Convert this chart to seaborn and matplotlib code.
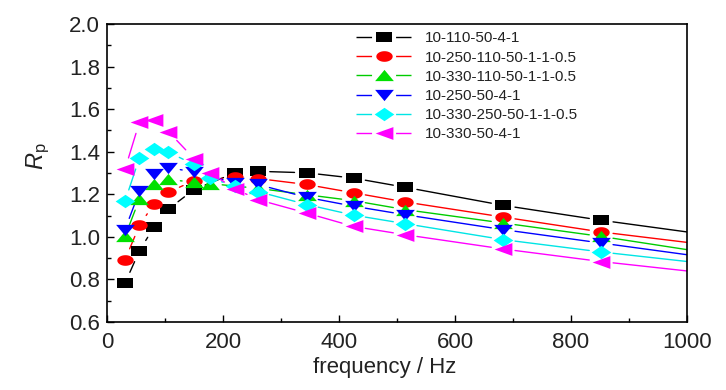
import numpy as np
import pandas as pd
import matplotlib
matplotlib.use("Agg")
import matplotlib.pyplot as plt
import seaborn as sns
from matplotlib.path import Path
from matplotlib.lines import Line2D
from matplotlib.legend_handler import HandlerTuple
from matplotlib import font_manager as fm

# ---------------- data ----------------
labels = ["10-110-50-4-1", "10-250-110-50-1-1-0.5", "10-330-110-50-1-1-0.5",
          "10-250-50-4-1", "10-330-250-50-1-1-0.5", "10-330-50-4-1"]

freq_black = [31, 56, 81, 106, 150, 220, 260, 344, 425, 514, 683, 852, 1100]
rp_black = [0.782, 0.935, 1.046, 1.131, 1.222, 1.300, 1.308, 1.301, 1.276, 1.233, 1.148, 1.078, 0.986]

freq_red = [31, 56, 81, 106, 150, 220, 260, 344, 425, 514, 683, 852, 1100]
rp_red = [0.892, 1.054, 1.155, 1.210, 1.264, 1.279, 1.274, 1.246, 1.207, 1.164, 1.093, 1.023, 0.941]

freq_green = [31, 56, 81, 106, 150, 178, 260, 344, 425, 514, 683, 852, 1100]
rp_green = [1.002, 1.178, 1.246, 1.270, 1.256, 1.250, 1.228, 1.198, 1.170, 1.128, 1.065, 1.002, 0.898]

freq_blue = [31, 56, 81, 106, 150, 220, 260, 344, 425, 514, 683, 852, 1100]
rp_blue = [1.034, 1.214, 1.293, 1.325, 1.305, 1.254, 1.246, 1.186, 1.144, 1.104, 1.034, 0.971, 0.879]

freq_cyan = [31, 56, 81, 106, 150, 178, 220, 260, 344, 425, 514, 683, 852, 1100]
rp_cyan = [1.167, 1.372, 1.414, 1.398, 1.340, 1.277, 1.238, 1.213, 1.152, 1.102, 1.062, 0.987, 0.929, 0.854]

freq_mag = [31, 56, 81, 106, 150, 178, 220, 260, 344, 425, 514, 683, 852, 1100]
rp_mag = [1.317, 1.540, 1.549, 1.494, 1.368, 1.300, 1.227, 1.175, 1.112, 1.049, 1.010, 0.943, 0.884, 0.810]

x_ticks = [0, 200, 400, 600, 800, 1000]
y_ticks = [0.6, 0.8, 1.0, 1.2, 1.4, 1.6, 1.8, 2.0]

series = [(freq_black, rp_black), (freq_red, rp_red), (freq_green, rp_green),
          (freq_blue, rp_blue), (freq_cyan, rp_cyan), (freq_mag, rp_mag)]
colors = ["#000000", "#ff0000", "#00e000", "#0000ff", "#00ffff", "#ff00ff"]
line_colors = ["#000000", "#ff0000", "#00cc00", "#0000ff", "#00e5e5", "#ff00ff"]

# marker shapes (style only)
t = np.linspace(0, 2 * np.pi, 40)
m_rect = Path([(-1, -0.6), (1, -0.6), (1, 0.6), (-1, 0.6), (-1, -0.6)], closed=True)
m_ell = Path(np.column_stack([np.cos(t), 0.65 * np.sin(t)]), closed=True)
m_up = Path([(-1, -0.6), (1, -0.6), (0, 0.6), (-1, -0.6)], closed=True)
m_down = Path([(-1, 0.6), (1, 0.6), (0, -0.6), (-1, 0.6)], closed=True)
m_dia = Path([(0, -0.68), (1, 0), (0, 0.68), (-1, 0), (0, -0.68)], closed=True)
m_left = Path([(-1, 0), (1, 0.72), (1, -0.72), (-1, 0)], closed=True)
markers = [m_rect, m_ell, m_up, m_down, m_dia, m_left]
msizes = [11.5, 11.8, 13.5, 13.5, 14.2, 12.8]

# ---------------- fonts ----------------
sns.set_theme(style="ticks")
names = {f.name for f in fm.fontManager.ttflist}
if "Liberation Sans Narrow" in names:
    fam = "Liberation Sans Narrow"
    tick_fs, leg_fs, lab_fs = 19, 13, 19
else:
    fam = "Liberation Sans"
    tick_fs, leg_fs, lab_fs = 16, 11, 17
plt.rcParams["font.family"] = [fam, "DejaVu Sans"]
plt.rcParams["mathtext.fontset"] = "custom"
plt.rcParams["mathtext.rm"] = fam
plt.rcParams["mathtext.it"] = fam + ":italic"

# ---------------- figure ----------------
fig = plt.figure(figsize=(7.26, 3.9), dpi=100)
ax = fig.add_axes([107 / 726, 1 - 322 / 390, 580 / 726, 298 / 390])
ax.set_facecolor("white")
ax.set_xlim(0, 1000)
ax.set_ylim(0.6, 2.0)

gap = 12.0  # px gap between line ends and marker centres
trans = ax.transData
inv = trans.inverted()
for (fx, fy), lc in zip(series, line_colors):
    pts = trans.transform(np.column_stack([fx, fy]))
    rows = []
    for i in range(len(pts) - 1):
        p0, p1 = pts[i], pts[i + 1]
        d = p1 - p0
        L = np.hypot(*d)
        if L <= 2 * gap + 1:
            continue
        u = d / L
        seg = inv.transform(np.array([p0 + u * gap, p1 - u * gap]))
        rows.append({"x": seg[0, 0], "y": seg[0, 1], "seg": i})
        rows.append({"x": seg[1, 0], "y": seg[1, 1], "seg": i})
    sdf = pd.DataFrame(rows)
    sns.lineplot(data=sdf, x="x", y="y", units="seg", estimator=None, sort=False,
                 color=lc, linewidth=1.0, ax=ax, legend=False)

for (fx, fy), c, m, ms in zip(series, colors, markers, msizes):
    df = pd.DataFrame({"f": fx, "rp": fy})
    sns.lineplot(data=df, x="f", y="rp", estimator=None, sort=False, ax=ax,
                 color=c, marker=m, markersize=ms, markeredgewidth=0,
                 markeredgecolor=c, linestyle="none", legend=False)

ax.set_xlim(0, 1000)
ax.set_ylim(0.6, 2.0)

ax.set_xticks(x_ticks)
ax.set_xticks(np.arange(100, 1000, 200), minor=True)
ax.set_yticks(y_ticks)
ax.set_yticks(np.arange(0.7, 2.0, 0.2), minor=True)
ax.set_yticklabels([f"{v:.1f}" for v in y_ticks])
ax.set_xticklabels([str(v) for v in x_ticks])
ax.tick_params(which="both", direction="in", top=False, right=False,
               labelsize=tick_fs, labelcolor="#222222", color="black", width=1)
ax.tick_params(axis="x", which="major", length=5, pad=7)
ax.tick_params(axis="y", which="major", length=5, pad=5)
ax.tick_params(which="minor", length=3)
for s in ax.spines.values():
    s.set_visible(True)
    s.set_color("black")
    s.set_linewidth(1.2)

ax.set_xlabel("frequency / Hz", fontsize=tick_fs, color="#222222")
ax.xaxis.set_label_coords(0.478, -0.117)
ax.set_ylabel(r"$R_{\mathrm{p}}$", fontsize=lab_fs, color="#222222")
ax.yaxis.set_label_coords(-0.094, 0.555)

# legend with gapped line handles
handles = []
for lc, c, m, ms in zip(line_colors, colors, markers, msizes):
    ln = Line2D([], [], color=lc, linewidth=1.0, linestyle=(0, (11.2, 17.3, 20, 10)))
    mk = Line2D([], [], color=c, marker=m, markersize=ms, markeredgewidth=0,
                linestyle="none")
    handles.append((ln, mk))
leg = ax.legend(handles, labels, handler_map={tuple: HandlerTuple(ndivide=1)},
                loc="upper left", bbox_to_anchor=(0.43, 0.975), frameon=False,
                fontsize=leg_fs, handlelength=3.6, handletextpad=0.85,
                labelspacing=0.34, borderaxespad=0, borderpad=0)
for txt in leg.get_texts():
    txt.set_color("#222222")

fig.savefig("out.png", dpi=100)
